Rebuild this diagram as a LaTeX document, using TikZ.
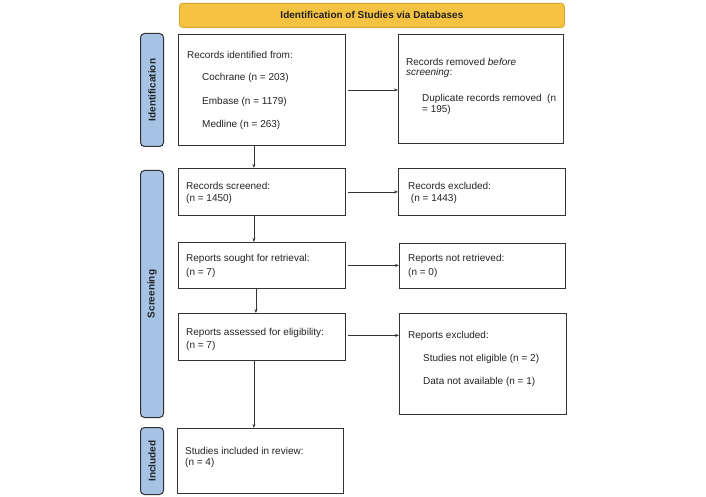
\documentclass[tikz,border=0pt]{standalone}
\usepackage{fontspec}
\setmainfont{Liberation Sans}
\usetikzlibrary{arrows.meta}
\definecolor{boxc}{HTML}{333333}
\definecolor{txtc}{HTML}{222222}
\definecolor{arrc}{HTML}{333333}
\definecolor{headfill}{HTML}{F5C242}
\definecolor{headdraw}{HTML}{D9A52E}
\definecolor{sideblue}{HTML}{A6C3E6}
\definecolor{sidec}{HTML}{2E2E2E}
\begin{document}
\begin{tikzpicture}[x=1pt,y=-1pt,
  box/.style={draw=boxc,line width=0.8pt,inner sep=0pt,anchor=north west},
  side/.style={draw=sidec,fill=sideblue,line width=1pt,rounded corners=4pt,inner sep=0pt,anchor=north west},
  txt/.style={anchor=west,inner sep=0pt,font=\fontsize{10}{12}\selectfont,text=txtc},
  sidetxt/.style={rotate=90,font=\bfseries\fontsize{10}{12}\selectfont,inner sep=0pt,text=txtc},
  arr/.style={-{Stealth[length=4pt,width=3pt]},line width=0.6pt,draw=arrc}]
\useasboundingbox (0,0) rectangle (706,497);
% header
\node[anchor=north west,draw=headdraw,fill=headfill,line width=0.8pt,rounded corners=3pt,
  minimum width=385pt,minimum height=24pt,inner sep=0pt] (head) at (179,3) {};
\node[font=\bfseries\fontsize{10}{12}\selectfont,text=txtc] (headt) at (head.center) {Identification of Studies via Databases};
% side labels
\node[side,minimum width=23pt,minimum height=113pt] (idside) at (140,33) {};
\node[side,minimum width=23pt,minimum height=247pt] (scrside) at (140,170) {};
\node[side,minimum width=23pt,minimum height=67pt] (incside) at (140,427) {};
\node[sidetxt] (idsidet) at (idside.center) {Identification};
\node[sidetxt] (scrsidet) at (scrside.center) {Screening};
\node[sidetxt] (incsidet) at (incside.center) {Included};
% boxes
\node[box,minimum width=167pt,minimum height=111pt] (id) at (178,34) {};
\node[box,minimum width=165pt,minimum height=109pt] (rem) at (398,34) {};
\node[box,minimum width=167pt,minimum height=47pt] (scr) at (178,168) {};
\node[box,minimum width=167pt,minimum height=47pt] (exc) at (398,168) {};
\node[box,minimum width=167pt,minimum height=46pt] (sought) at (178,242) {};
\node[box,minimum width=166pt,minimum height=45pt] (notret) at (399,243) {};
\node[box,minimum width=167pt,minimum height=47pt] (assess) at (178,313) {};
\node[box,minimum width=167pt,minimum height=101pt] (rexc) at (399,313) {};
\node[box,minimum width=166pt,minimum height=65pt] (inc) at (177,428) {};
% texts
\node[txt] (t1) at (187,55) {Records identified from:};
\node[txt] (t2) at (202,78) {Cochrane (n = 203)};
\node[txt] (t3) at (202,102) {Embase (n = 1179)};
\node[txt] (t4) at (202,125) {Medline (n = 263)};
\node[txt] (t5) at (406,62) {Records removed \emph{before}};
\node[txt] (t6) at (406,73) {\emph{screening}:};
\node[txt] (t7) at (422,99) {Duplicate records removed\ \ (n};
\node[txt] (t8) at (422,110) {= 195)};
\node[txt] (t9) at (186,186) {Records screened:};
\node[txt] (t10) at (186,199) {(n = 1450)};
\node[txt] (t11) at (408,186) {Records excluded:};
\node[txt] (t12) at (408,199) {\ (n = 1443)};
\node[txt] (t13) at (186,259) {Reports sought for retrieval:};
\node[txt] (t14) at (186,273) {(n = 7)};
\node[txt] (t15) at (408,259) {Reports not retrieved:};
\node[txt] (t16) at (408,273) {(n = 0)};
\node[txt] (t17) at (186,333) {Reports assessed for eligibility:};
\node[txt] (t18) at (186,346) {(n = 7)};
\node[txt] (t19) at (408,336) {Reports excluded:};
\node[txt] (t20) at (423,359) {Studies not eligible (n = 2)};
\node[txt] (t21) at (423,382) {Data not available (n = 1)};
\node[txt] (t22) at (185,451) {Studies included in review:};
\node[txt] (t23) at (185,463) {(n = 4)};
% arrows
\draw[arr] ([xshift=-8pt]id.south) -- ([xshift=-8pt]scr.north);
\draw[arr] ([xshift=-8pt]scr.south) -- ([xshift=-8pt]sought.north);
\draw[arr] ([xshift=-6pt]sought.south) -- ([xshift=-6pt]assess.north);
\draw[arr] ([xshift=-8pt]assess.south) -- ([xshift=-8pt]assess.south |- inc.north);
\draw[arr,shorten <=2pt] (id.east) -- (id.east -| rem.west);
\draw[arr,shorten <=2pt] (scr.east) -- (scr.east -| exc.west);
\draw[arr,shorten <=2pt] (sought.east) -- (sought.east -| notret.west);
\draw[arr,shorten <=2pt] ([yshift=1.5pt]assess.east) -- ([yshift=1.5pt]assess.east -| rexc.west);
\end{tikzpicture}
\end{document}
